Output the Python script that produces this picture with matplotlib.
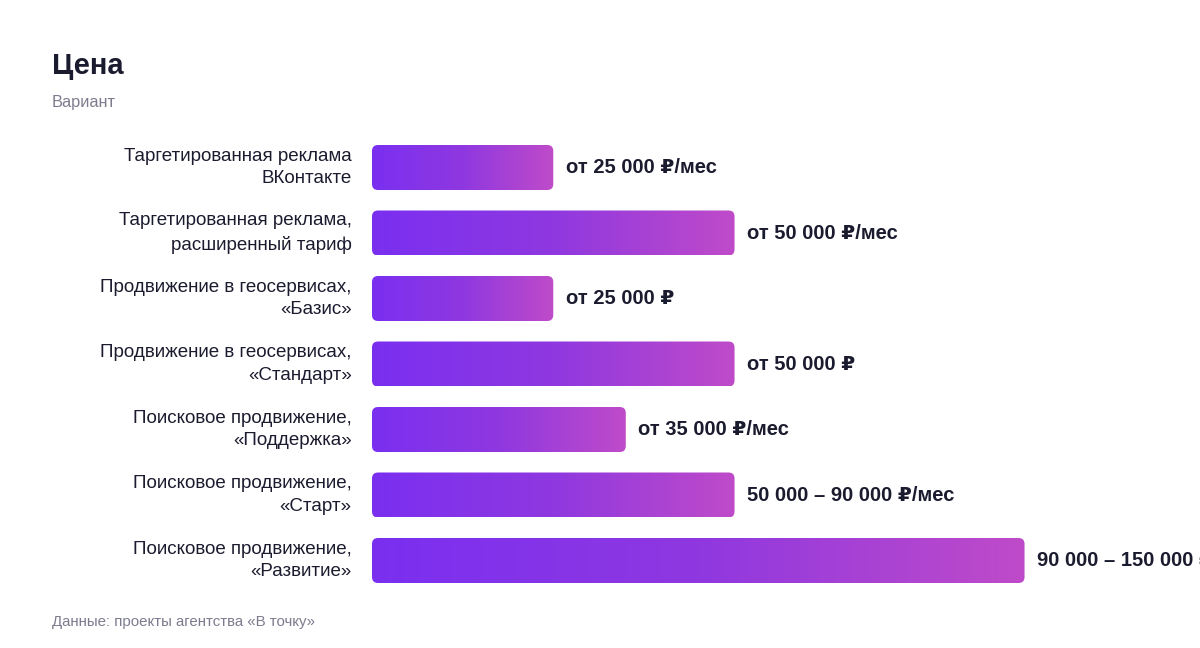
import numpy as np
import matplotlib
matplotlib.use("Agg")
import matplotlib.pyplot as plt
from matplotlib.patches import FancyBboxPatch
from matplotlib.colors import LinearSegmentedColormap
from matplotlib.transforms import IdentityTransform

plt.rcParams['font.family'] = ['Liberation Sans', 'DejaVu Sans']

# ---- data ----
categories = [
    "Таргетированная реклама\nВКонтакте",
    "Таргетированная реклама,\nрасширенный тариф",
    "Продвижение в геосервисах,\n«Базис»",
    "Продвижение в геосервисах,\n«Стандарт»",
    "Поисковое продвижение,\n«Поддержка»",
    "Поисковое продвижение,\n«Старт»",
    "Поисковое продвижение,\n«Развитие»",
]
values = [25000, 50000, 25000, 50000, 35000, 50000, 90000]
value_labels = [
    "от 25 000 ₽/мес",
    "от 50 000 ₽/мес",
    "от 25 000 ₽",
    "от 50 000 ₽",
    "от 35 000 ₽/мес",
    "50 000 – 90 000 ₽/мес",
    "90 000 – 150 000 ₽/мес",
]

# ---- style ----
DARK = "#1b1b2f"
GREY = "#7c7c8e"
grad = LinearSegmentedColormap.from_list("g", ["#7a2ff0", "#8f38e0", "#bf4bc9"])

fig = plt.figure(figsize=(12, 6.48), dpi=100)
ax = fig.add_axes([372 / 1200, 54.75 / 648, 828 / 1200, 458.5 / 648])
ax.set_xlim(0, 114200)
ax.set_ylim(len(categories) - 0.5, -0.5)
ax.axis("off")

y = np.arange(len(categories))
bars = ax.barh(y, values, height=0.687, color="none")

gimg = np.linspace(0, 1, 256).reshape(1, -1)
for bar, lab, cat in zip(bars, value_labels, categories):
    x0, yb = bar.get_x(), bar.get_y()
    w, h = bar.get_width(), bar.get_height()
    # rounded clip shape in display pixels
    (px0, py0) = ax.transData.transform((x0, yb + h))
    (px1, py1) = ax.transData.transform((x0 + w, yb))
    patch = FancyBboxPatch((px0, py0), px1 - px0, py1 - py0,
                           boxstyle="round,pad=0,rounding_size=6",
                           transform=IdentityTransform(), facecolor="none",
                           edgecolor="none")
    fig.add_artist(patch)
    im = ax.imshow(gimg, cmap=grad, aspect="auto",
                   extent=(x0, x0 + w, yb + h, yb), interpolation="bicubic")
    im.set_clip_path(patch)
    ax.annotate(lab, xy=(x0 + w, yb + h / 2), xytext=(9, 0),
                textcoords="offset points", ha="left", va="center",
                fontsize=14.5, fontweight="bold", color=DARK,
                annotation_clip=False)
    ax.annotate(cat, xy=(0, yb + h / 2), xytext=(-14.5, 0),
                textcoords="offset points", ha="right", va="center",
                fontsize=13.5, color=DARK, linespacing=1.45,
                annotation_clip=False)

ax.set_xlim(0, 114200)
ax.set_ylim(len(categories) - 0.5, -0.5)

fig.text(52 / 1200, 1 - 66 / 648, "Цена", fontsize=21, fontweight="bold",
         color=DARK, ha="left", va="center")
fig.text(52 / 1200, 1 - 102 / 648, "Вариант", fontsize=11.8, color=GREY,
         ha="left", va="center")
fig.text(52 / 1200, 1 - 622 / 648, "Данные: проекты агентства «В точку»",
         fontsize=10.8, color=GREY, ha="left", va="center")

fig.savefig("out.png", dpi=100)
